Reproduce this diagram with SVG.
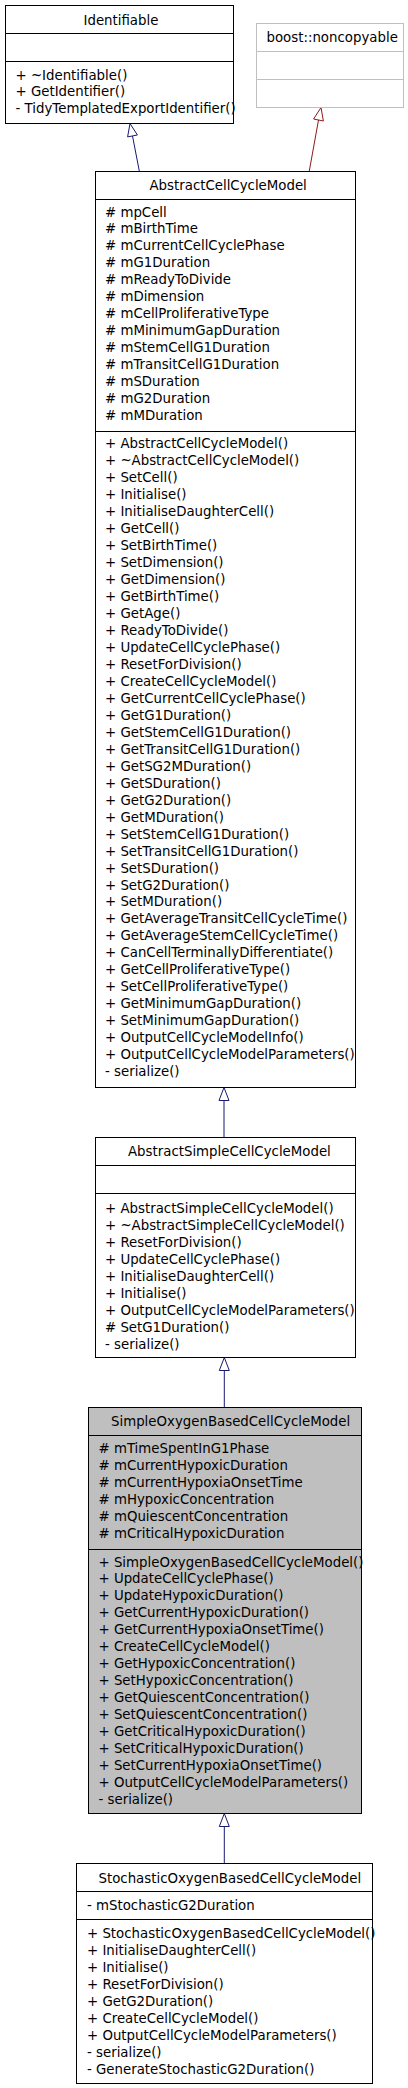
<svg xmlns="http://www.w3.org/2000/svg" width="408" height="2088" viewBox="0 0 408 2088">
<style>
text{font-family:"DejaVu Sans","Liberation Sans",sans-serif;font-size:13.33px;fill:#000}
.box{fill:#fff;stroke:#000;stroke-width:1}
.grey{fill:#bfbfbf;stroke:#000;stroke-width:1}
.ext{fill:#fff;stroke:#bfbfbf;stroke-width:1}
.sep{stroke:#000;stroke-width:1}
.sepg{stroke:#bfbfbf;stroke-width:1}
.blue{stroke:#191970;fill:none;stroke-width:1}
.bluehead{stroke:#191970;fill:#fff;stroke-width:1}
.red{stroke:#8b1a1a;fill:none;stroke-width:1}
.redhead{stroke:#8b1a1a;fill:#fff;stroke-width:1}
</style>
<rect width="408" height="2088" fill="#fff"/>
<g id="connectors">
<path class="blue" d="M139.4,171.5 L132.5,136"/>
<polygon class="bluehead" points="130,123.5 137.4,135 127.6,136.9"/>
<path class="red" d="M309.2,171.5 L318.5,120"/>
<polygon class="redhead" points="321,107.5 323.4,121 313.6,119"/>
<path class="blue" d="M224,1137.5 L224,1100.5"/>
<polygon class="bluehead" points="224,1087.5 229,1100.5 219,1100.5"/>
<path class="blue" d="M224.3,1407.5 L224.3,1370.5"/>
<polygon class="bluehead" points="224.3,1357.5 229.3,1370.5 219.3,1370.5"/>
<path class="blue" d="M224.3,1863.5 L224.3,1826.5"/>
<polygon class="bluehead" points="224.3,1813.5 229.3,1826.5 219.3,1826.5"/>
</g>
<g id="Identifiable">
<rect class="box" x="5.5" y="5.5" width="228" height="118"/>
<line class="sep" x1="5.5" y1="33.5" x2="233.5" y2="33.5"/>
<line class="sep" x1="5.5" y1="61.5" x2="233.5" y2="61.5"/>
<text x="83.5" y="24.5">Identifiable</text>
<text x="15.5" y="79.5">+ ~Identifiable()<tspan x="15.5" dy="16.97">+ GetIdentifier()</tspan><tspan x="15.5" dy="16.97">- TidyTemplatedExportIdentifier()</tspan></text>
</g>
<g id="boost_noncopyable">
<rect class="ext" x="256.5" y="23.5" width="147" height="84"/>
<line class="sepg" x1="256.5" y1="51.5" x2="403.5" y2="51.5"/>
<line class="sepg" x1="256.5" y1="79.5" x2="403.5" y2="79.5"/>
<text x="266.5" y="42">boost::noncopyable</text>
</g>
<g id="AbstractCellCycleModel">
<rect class="box" x="95.5" y="171.5" width="260" height="916"/>
<line class="sep" x1="95.5" y1="199.5" x2="355.5" y2="199.5"/>
<line class="sep" x1="95.5" y1="431.5" x2="355.5" y2="431.5"/>
<text x="149.5" y="190">AbstractCellCycleModel</text>
<text x="105" y="216.5"># mpCell<tspan x="105" dy="16.97"># mBirthTime</tspan><tspan x="105" dy="16.97"># mCurrentCellCyclePhase</tspan><tspan x="105" dy="16.97"># mG1Duration</tspan><tspan x="105" dy="16.97"># mReadyToDivide</tspan><tspan x="105" dy="16.97"># mDimension</tspan><tspan x="105" dy="16.97"># mCellProliferativeType</tspan><tspan x="105" dy="16.97"># mMinimumGapDuration</tspan><tspan x="105" dy="16.97"># mStemCellG1Duration</tspan><tspan x="105" dy="16.97"># mTransitCellG1Duration</tspan><tspan x="105" dy="16.97"># mSDuration</tspan><tspan x="105" dy="16.97"># mG2Duration</tspan><tspan x="105" dy="16.97"># mMDuration</tspan></text>
<text x="105" y="448.3">+ AbstractCellCycleModel()<tspan x="105" dy="16.97">+ ~AbstractCellCycleModel()</tspan><tspan x="105" dy="16.97">+ SetCell()</tspan><tspan x="105" dy="16.97">+ Initialise()</tspan><tspan x="105" dy="16.97">+ InitialiseDaughterCell()</tspan><tspan x="105" dy="16.97">+ GetCell()</tspan><tspan x="105" dy="16.97">+ SetBirthTime()</tspan><tspan x="105" dy="16.97">+ SetDimension()</tspan><tspan x="105" dy="16.97">+ GetDimension()</tspan><tspan x="105" dy="16.97">+ GetBirthTime()</tspan><tspan x="105" dy="16.97">+ GetAge()</tspan><tspan x="105" dy="16.97">+ ReadyToDivide()</tspan><tspan x="105" dy="16.97">+ UpdateCellCyclePhase()</tspan><tspan x="105" dy="16.97">+ ResetForDivision()</tspan><tspan x="105" dy="16.97">+ CreateCellCycleModel()</tspan><tspan x="105" dy="16.97">+ GetCurrentCellCyclePhase()</tspan><tspan x="105" dy="16.97">+ GetG1Duration()</tspan><tspan x="105" dy="16.97">+ GetStemCellG1Duration()</tspan><tspan x="105" dy="16.97">+ GetTransitCellG1Duration()</tspan><tspan x="105" dy="16.97">+ GetSG2MDuration()</tspan><tspan x="105" dy="16.97">+ GetSDuration()</tspan><tspan x="105" dy="16.97">+ GetG2Duration()</tspan><tspan x="105" dy="16.97">+ GetMDuration()</tspan><tspan x="105" dy="16.97">+ SetStemCellG1Duration()</tspan><tspan x="105" dy="16.97">+ SetTransitCellG1Duration()</tspan><tspan x="105" dy="16.97">+ SetSDuration()</tspan><tspan x="105" dy="16.97">+ SetG2Duration()</tspan><tspan x="105" dy="16.97">+ SetMDuration()</tspan><tspan x="105" dy="16.97">+ GetAverageTransitCellCycleTime()</tspan><tspan x="105" dy="16.97">+ GetAverageStemCellCycleTime()</tspan><tspan x="105" dy="16.97">+ CanCellTerminallyDifferentiate()</tspan><tspan x="105" dy="16.97">+ GetCellProliferativeType()</tspan><tspan x="105" dy="16.97">+ SetCellProliferativeType()</tspan><tspan x="105" dy="16.97">+ GetMinimumGapDuration()</tspan><tspan x="105" dy="16.97">+ SetMinimumGapDuration()</tspan><tspan x="105" dy="16.97">+ OutputCellCycleModelInfo()</tspan><tspan x="105" dy="16.97">+ OutputCellCycleModelParameters()</tspan><tspan x="105" dy="16.97">- serialize()</tspan></text>
</g>
<g id="AbstractSimpleCellCycleModel">
<rect class="box" x="95.5" y="1137.5" width="260" height="220"/>
<line class="sep" x1="95.5" y1="1165.5" x2="355.5" y2="1165.5"/>
<line class="sep" x1="95.5" y1="1193.5" x2="355.5" y2="1193.5"/>
<text x="128" y="1156">AbstractSimpleCellCycleModel</text>
<text x="105" y="1212.8">+ AbstractSimpleCellCycleModel()<tspan x="105" dy="16.97">+ ~AbstractSimpleCellCycleModel()</tspan><tspan x="105" dy="16.97">+ ResetForDivision()</tspan><tspan x="105" dy="16.97">+ UpdateCellCyclePhase()</tspan><tspan x="105" dy="16.97">+ InitialiseDaughterCell()</tspan><tspan x="105" dy="16.97">+ Initialise()</tspan><tspan x="105" dy="16.97">+ OutputCellCycleModelParameters()</tspan><tspan x="105" dy="16.97"># SetG1Duration()</tspan><tspan x="105" dy="16.97">- serialize()</tspan></text>
</g>
<g id="SimpleOxygenBasedCellCycleModel">
<rect class="grey" x="88.5" y="1407.5" width="273" height="406"/>
<line class="sep" x1="88.5" y1="1435.5" x2="361.5" y2="1435.5"/>
<line class="sep" x1="88.5" y1="1549.5" x2="361.5" y2="1549.5"/>
<text x="111" y="1426">SimpleOxygenBasedCellCycleModel</text>
<text x="98.5" y="1453"># mTimeSpentInG1Phase<tspan x="98.5" dy="16.97"># mCurrentHypoxicDuration</tspan><tspan x="98.5" dy="16.97"># mCurrentHypoxiaOnsetTime</tspan><tspan x="98.5" dy="16.97"># mHypoxicConcentration</tspan><tspan x="98.5" dy="16.97"># mQuiescentConcentration</tspan><tspan x="98.5" dy="16.97"># mCriticalHypoxicDuration</tspan></text>
<text x="98.5" y="1566.5">+ SimpleOxygenBasedCellCycleModel()<tspan x="98.5" dy="16.97">+ UpdateCellCyclePhase()</tspan><tspan x="98.5" dy="16.97">+ UpdateHypoxicDuration()</tspan><tspan x="98.5" dy="16.97">+ GetCurrentHypoxicDuration()</tspan><tspan x="98.5" dy="16.97">+ GetCurrentHypoxiaOnsetTime()</tspan><tspan x="98.5" dy="16.97">+ CreateCellCycleModel()</tspan><tspan x="98.5" dy="16.97">+ GetHypoxicConcentration()</tspan><tspan x="98.5" dy="16.97">+ SetHypoxicConcentration()</tspan><tspan x="98.5" dy="16.97">+ GetQuiescentConcentration()</tspan><tspan x="98.5" dy="16.97">+ SetQuiescentConcentration()</tspan><tspan x="98.5" dy="16.97">+ GetCriticalHypoxicDuration()</tspan><tspan x="98.5" dy="16.97">+ SetCriticalHypoxicDuration()</tspan><tspan x="98.5" dy="16.97">+ SetCurrentHypoxiaOnsetTime()</tspan><tspan x="98.5" dy="16.97">+ OutputCellCycleModelParameters()</tspan><tspan x="98.5" dy="16.97">- serialize()</tspan></text>
</g>
<g id="StochasticOxygenBasedCellCycleModel">
<rect class="box" x="76.5" y="1863.5" width="296" height="220"/>
<line class="sep" x1="76.5" y1="1891.5" x2="372.5" y2="1891.5"/>
<line class="sep" x1="76.5" y1="1919.5" x2="372.5" y2="1919.5"/>
<text x="98.5" y="1882.5">StochasticOxygenBasedCellCycleModel</text>
<text x="87" y="1910">- mStochasticG2Duration</text>
<text x="87" y="1938">+ StochasticOxygenBasedCellCycleModel()<tspan x="87" dy="16.97">+ InitialiseDaughterCell()</tspan><tspan x="87" dy="16.97">+ Initialise()</tspan><tspan x="87" dy="16.97">+ ResetForDivision()</tspan><tspan x="87" dy="16.97">+ GetG2Duration()</tspan><tspan x="87" dy="16.97">+ CreateCellCycleModel()</tspan><tspan x="87" dy="16.97">+ OutputCellCycleModelParameters()</tspan><tspan x="87" dy="16.97">- serialize()</tspan><tspan x="87" dy="16.97">- GenerateStochasticG2Duration()</tspan></text>
</g>
</svg>
